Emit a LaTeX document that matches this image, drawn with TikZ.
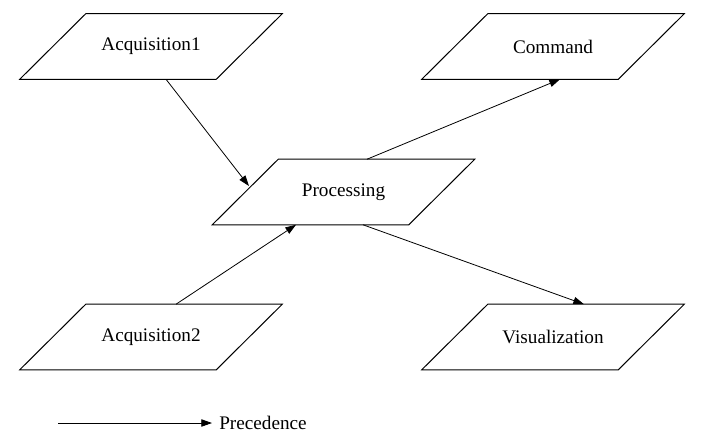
\documentclass[tikz,border=0pt]{standalone}
\usepackage{fontspec}
\setmainfont{Liberation Serif}
\usepackage{tikz}
\usetikzlibrary{arrows.meta}
\usetikzlibrary{calc}
\tikzset{
  task/.style={
    minimum width=147pt, minimum height=48.75pt, inner sep=0,
    font=\fontsize{14.4}{17}\selectfont
  },
  slanted/.style={line width=0.75pt, line join=miter},
  arrow/.style={-{Triangle[length=8pt,width=5.5pt]}, line width=0.6pt}
}
\begin{document}
\begin{tikzpicture}[x=0.75pt,y=-0.75pt]
  \useasboundingbox (0,0) rectangle (716,439);
  \node[task] (acq1) at (151,46.5) {Acquisition1};
  \node[task] (cmd) at (553,46.5) {Command};
  \node[task] (proc) at (343.5,192) {Processing};
  \node[task] (acq2) at (151,337) {Acquisition2};
  \node[task] (vis) at (553,337) {Visualization};

  % parallelogram outlines
  \foreach \n in {acq1,cmd,proc,acq2,vis}
    \draw[slanted] ([xshift=24.75pt]\n.north west) -- ([xshift=24.75pt]\n.north east)
      -- ([xshift=-24.75pt]\n.south east) -- ([xshift=-24.75pt]\n.south west) -- cycle;

  \draw[arrow] ([xshift=11.25pt]acq1.south) -- ([xshift=-70.9pt,yshift=4.5pt]proc.center);
  \draw[arrow] ([xshift=18.75pt]acq2.north) -- ([xshift=-35.6pt]proc.south);
  \draw[arrow] ([xshift=17.6pt]proc.north) -- ([xshift=5.25pt]cmd.south);
  \draw[arrow] ([xshift=14.6pt]proc.south) -- ([xshift=23.25pt]vis.north);

  % legend
  \coordinate (legstart) at (58,423);
  \node[anchor=west, inner sep=0, font=\fontsize{14.4}{17}\selectfont] (prec) at (219,423) {Precedence};
  \draw[arrow] (legstart) -- ([xshift=-5.25pt]prec.west);
\end{tikzpicture}
\end{document}
